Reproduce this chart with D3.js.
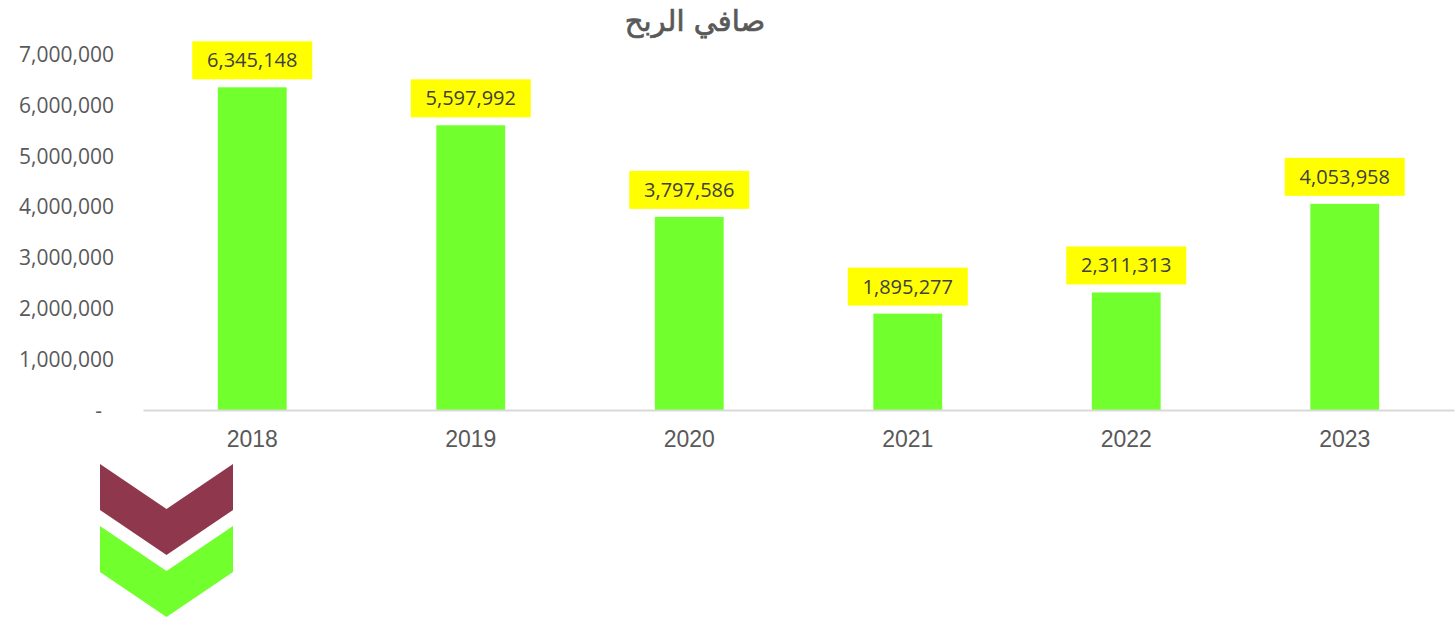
<!DOCTYPE html>
<html>
<head>
<meta charset="utf-8">
<script src="https://cdn.jsdelivr.net/npm/d3@7"></script>
<style>
  body { margin: 0; background: #fff; }
  svg { display: block; }
</style>
</head>
<body>
<div class="chart"></div>
<script>
// ------------------------------------------------------------------
// Data
var title = "صافي الربح";
var years = ["2018", "2019", "2020", "2021", "2022", "2023"];
var profit = [6345148, 5597992, 3797586, 1895277, 2311313, 4053958];
var yTicks = [0, 1000000, 2000000, 3000000, 4000000, 5000000, 6000000, 7000000];

// ------------------------------------------------------------------
// Setup
var width = 1455, height = 620;
var margin = { top: 54, right: 1, left: 143, bottom: 210 };

var svg = d3.select(".chart").append("svg")
  .attr("width", width)
  .attr("height", height);

var x = d3.scaleBand()
  .domain(years)
  .range([margin.left, width - margin.right])
  .paddingInner(0.685)
  .paddingOuter(0.3425);

var y = d3.scaleLinear()
  .domain([0, 7000000])
  .range([height - margin.bottom, margin.top]);

var fmt = d3.format(",");

// title
svg.append("text")
  .attr("x", 695)
  .attr("y", 31)
  .attr("text-anchor", "middle")
  .attr("font-family", "DejaVu Sans, Noto Sans, sans-serif")
  .attr("font-size", "29px")
  .attr("fill", "#595959")
  .attr("stroke", "#595959")
  .attr("stroke-width", 0.7)
  .text(title);

// y axis labels (no line)
var yAxis = d3.axisLeft(y)
  .tickValues(yTicks)
  .tickSize(0)
  .tickPadding(0)
  .tickFormat(function(d) { return d === 0 ? "-" : fmt(d); });

var gy = svg.append("g")
  .attr("transform", "translate(114,0)")
  .call(yAxis);
gy.select(".domain").remove();
gy.selectAll("text")
  .attr("font-family", "Open Sans, sans-serif")
  .attr("font-size", "21px")
  .attr("fill", "#595959")
  .attr("dy", "0.35em");
gy.selectAll("text").filter(function(d) { return d === 0; })
  .attr("dx", "-12px");

// bars
svg.selectAll(".bar")
  .data(profit)
  .enter().append("rect")
  .attr("class", "bar")
  .attr("x", function(d, i) { return x(years[i]); })
  .attr("width", x.bandwidth())
  .attr("y", function(d) { return y(d); })
  .attr("height", function(d) { return y(0) - y(d); })
  .attr("fill", "#72FF2E");

// x axis
var xAxis = d3.axisBottom(x).tickSize(0).tickPadding(21);
var gx = svg.append("g")
  .attr("transform", "translate(0," + y(0) + ")")
  .call(xAxis);
gx.select(".domain")
  .attr("stroke", "#D9D9D9")
  .attr("stroke-width", 2);
gx.selectAll("text")
  .attr("font-family", "Liberation Sans, Arial, sans-serif")
  .attr("font-size", "23px")
  .attr("fill", "#595959");

// value labels with yellow boxes
var lab = svg.selectAll(".lab")
  .data(profit)
  .enter().append("g")
  .attr("class", "lab")
  .attr("transform", function(d, i) {
    return "translate(" + (x(years[i]) + x.bandwidth() / 2) + "," + (y(d) - 27) + ")";
  });

lab.append("rect")
  .attr("x", -60)
  .attr("y", -19)
  .attr("width", 120)
  .attr("height", 38)
  .attr("fill", "#FFFF00");

lab.append("text")
  .attr("text-anchor", "middle")
  .attr("dy", "0.35em")
  .attr("font-family", "Open Sans, sans-serif")
  .attr("font-size", "20px")
  .attr("fill", "#404040")
  .text(function(d) { return fmt(d); });

// ------------------------------------------------------------------
// decorative chevrons
function chevron(x0, y0, w, depth, thick) {
  return [
    [x0, y0], [x0 + w / 2, y0 + depth], [x0 + w, y0],
    [x0 + w, y0 + thick], [x0 + w / 2, y0 + depth + thick], [x0, y0 + thick]
  ];
}
var line = d3.line();
svg.append("path")
  .attr("d", line(chevron(100, 464, 133, 45, 46)) + "Z")
  .attr("fill", "#8E374D");
svg.append("path")
  .attr("d", line(chevron(100, 526, 133, 45, 46)) + "Z")
  .attr("fill", "#72FF2E");
</script>
</body>
</html>
